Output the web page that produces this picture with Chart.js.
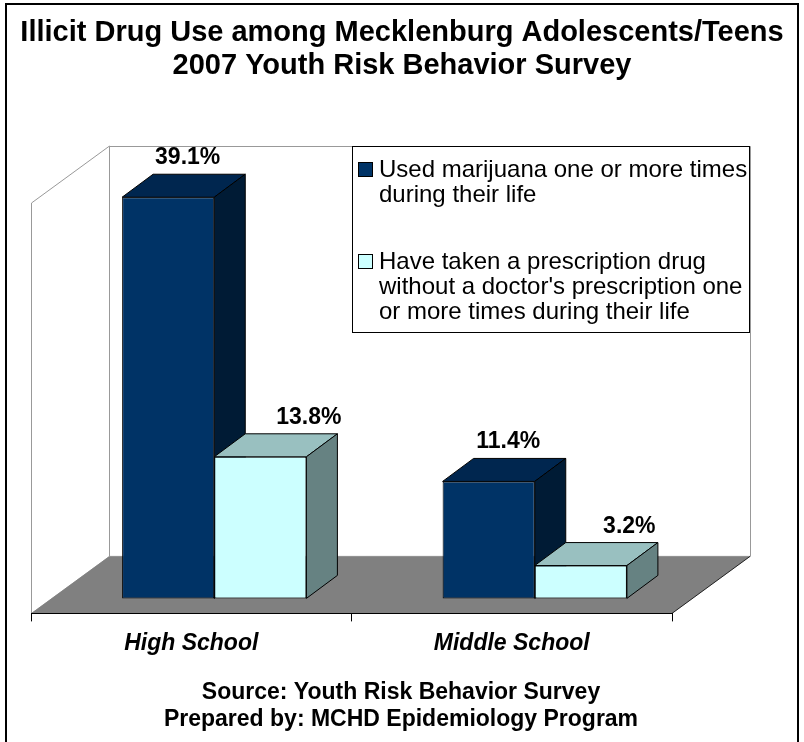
<!DOCTYPE html>
<html lang="en">
<head>
<meta charset="UTF-8">
<title>Illicit Drug Use among Mecklenburg Adolescents/Teens</title>
<script src="https://cdn.jsdelivr.net/npm/chart.js"></script>
<style>
  html, body { margin: 0; padding: 0; background: #fff; }
  #chart { display: block; }
</style>
</head>
<body>
<canvas id="chart" width="804" height="742"></canvas>
<script>
// data
var categories = ['High School', 'Middle School'];
var marijuana = [39.1, 11.4];
var rxDrug = [13.8, 3.2];
var seriesNames = [
    'Used marijuana one or more times during their life',
    "Have taken a prescription drug without a doctor's prescription one or more times during their life"
];
var titleLines = ['Illicit Drug Use among Mecklenburg Adolescents/Teens', '2007 Youth Risk Behavior Survey'];
var footerLines = ['Source: Youth Risk Behavior Survey', 'Prepared by: MCHD Epidemiology Program'];
var yMin = 0;
var yMax = 40;

var FONT = '"Liberation Sans", Arial, sans-serif';
var wallDepth = {x: 78, y: -57};   // floor / walls depth
var barShift = {x: 23, y: -15};    // bars sit a bit back on the floor
var barDepth = {x: 31, y: -23};
var faces = [
    {front: '#003366', top: '#00264F', side: '#001B35'},
    {front: '#CCFFFF', top: '#99C0C0', side: '#668282'}
];
var labelNudge = [4, 33];

function poly(ctx, pts, fill, stroke) {
    ctx.beginPath();
    ctx.moveTo(pts[0][0], pts[0][1]);
    for (var i = 1; i < pts.length; i++) ctx.lineTo(pts[i][0], pts[i][1]);
    ctx.closePath();
    if (fill) { ctx.fillStyle = fill; ctx.fill(); }
    if (stroke) { ctx.strokeStyle = stroke; ctx.lineWidth = 1; ctx.stroke(); }
}

function barBox(el) {
    var p = el.getProps(['x', 'y', 'base', 'width'], true);
    return {
        l: p.x - p.width / 2 + barShift.x,
        r: p.x + p.width / 2 + barShift.x,
        t: p.y + barShift.y,
        b: p.base + barShift.y
    };
}

var box3d = {
    id: 'box3d',
    beforeDraw: function(chart) {
        var ctx = chart.ctx;
        var ca = chart.chartArea;
        var y = chart.scales.y;
        var L = ca.left, R = ca.right;
        var T = y.getPixelForValue(yMax), B = y.getPixelForValue(yMin);
        var dx = wallDepth.x, dy = wallDepth.y;
        ctx.save();
        ctx.fillStyle = '#fff';
        ctx.fillRect(0, 0, chart.width, chart.height);
        // outer frame (bottom edge runs off the picture)
        ctx.strokeStyle = '#000';
        ctx.lineWidth = 2;
        ctx.strokeRect(6, 4, 792, 760);
        // titles
        ctx.fillStyle = '#000';
        ctx.textAlign = 'center';
        ctx.textBaseline = 'alphabetic';
        ctx.font = 'bold 29px ' + FONT;
        ctx.fillText(titleLines[0], 402, 41);
        ctx.fillText(titleLines[1], 402, 74);
        ctx.font = 'bold 23px ' + FONT;
        ctx.fillText(footerLines[0], 401, 699);
        ctx.fillText(footerLines[1], 401, 726);
        // walls and floor
        poly(ctx, [[L + 0.5, T], [L + dx + 0.5, T + dy], [L + dx + 0.5, B + dy], [L + 0.5, B]], '#fff', '#999');
        poly(ctx, [[L + dx + 0.5, T + dy + 0.5], [R + dx + 0.5, T + dy + 0.5], [R + dx + 0.5, B + dy], [L + dx + 0.5, B + dy]], '#fff', '#999');
        poly(ctx, [[L, B], [L + dx, B + dy], [R + dx, B + dy], [R, B]], '#808080', null);
        ctx.beginPath();
        ctx.moveTo(R, B);
        ctx.lineTo(R + dx, B + dy);
        ctx.strokeStyle = '#222';
        ctx.lineWidth = 1;
        ctx.stroke();
        ctx.restore();
    },
    beforeDatasetsDraw: function(chart) {
        var ctx = chart.ctx;
        ctx.save();
        chart.data.datasets.forEach(function(ds, di) {
            var meta = chart.getDatasetMeta(di);
            meta.data.forEach(function(el) {
                var b = barBox(el);
                var ddx = barDepth.x, ddy = barDepth.y;
                poly(ctx, [[b.l, b.t], [b.l + ddx, b.t + ddy], [b.r + ddx, b.t + ddy], [b.r, b.t]], faces[di].top, '#000');
                poly(ctx, [[b.r, b.t], [b.r + ddx, b.t + ddy], [b.r + ddx, b.b + ddy], [b.r, b.b]], faces[di].side, '#000');
            });
        });
        ctx.restore();
        ctx.save();
        ctx.translate(barShift.x, barShift.y);
    },
    afterDatasetsDraw: function(chart) {
        var ctx = chart.ctx;
        ctx.restore();
        ctx.save();
        ctx.fillStyle = '#000';
        ctx.font = 'bold 23px ' + FONT;
        ctx.textAlign = 'center';
        ctx.textBaseline = 'alphabetic';
        chart.data.datasets.forEach(function(ds, di) {
            chart.getDatasetMeta(di).data.forEach(function(el, i) {
                var b = barBox(el);
                var cx = (b.l + b.r) / 2 + barDepth.x / 2 + labelNudge[di];
                ctx.fillText(ds.data[i].toFixed(1) + '%', cx, b.t + barDepth.y - 10);
            });
        });
        ctx.restore();
    },
    afterDraw: function(chart) {
        var ctx = chart.ctx;
        var lx = 352, ly = 146, lw = 397, lh = 186;
        ctx.save();
        ctx.fillStyle = '#fff';
        ctx.fillRect(lx, ly, lw, lh);
        ctx.strokeStyle = '#000';
        ctx.lineWidth = 1;
        ctx.strokeRect(lx + 0.5, ly + 0.5, lw, lh);
        ctx.font = '24px ' + FONT;
        ctx.textAlign = 'left';
        ctx.textBaseline = 'alphabetic';
        var itemTop = [ly + 16, ly + 108];
        chart.data.datasets.forEach(function(ds, di) {
            var sy = itemTop[di];
            ctx.fillStyle = faces[di].front;
            ctx.fillRect(lx + 6.5, sy + 0.5, 14, 14);
            ctx.strokeStyle = '#000';
            ctx.strokeRect(lx + 6.5, sy + 0.5, 14, 14);
            // wrap label into lines
            var words = ds.label.split(' ');
            var lines = [], cur = '';
            words.forEach(function(w) {
                var test = cur ? cur + ' ' + w : w;
                if (ctx.measureText(test).width > 372 && cur) { lines.push(cur); cur = w; }
                else cur = test;
            });
            lines.push(cur);
            ctx.fillStyle = '#000';
            lines.forEach(function(line, k) {
                ctx.fillText(line, lx + 27, sy + 15 + k * 25);
            });
        });
        ctx.restore();
    }
};

var ctx = document.getElementById('chart');
new Chart(ctx, {
    type: 'bar',
    data: {
        labels: categories,
        datasets: [{
            label: seriesNames[0],
            data: marijuana,
            backgroundColor: faces[0].front,
            borderColor: '#000',
            borderWidth: 1,
            borderSkipped: false
        }, {
            label: seriesNames[1],
            data: rxDrug,
            backgroundColor: faces[1].front,
            borderColor: '#000',
            borderWidth: 1,
            borderSkipped: false
        }]
    },
    options: {
        responsive: false,
        animation: false,
        events: [],
        layout: {
            padding: {left: 31, right: 132, top: 203, bottom: 77}
        },
        datasets: {
            bar: {categoryPercentage: 0.575, barPercentage: 1, clip: false}
        },
        plugins: {
            legend: {display: false},
            title: {display: false},
            tooltip: {enabled: false}
        },
        scales: {
            x: {
                grid: {drawOnChartArea: false, drawTicks: true, tickLength: 8, color: '#000'},
                border: {display: true, color: '#000', width: 1},
                ticks: {
                    color: '#000',
                    padding: 8,
                    font: {family: FONT, size: 23, style: 'italic', weight: 'bold'}
                }
            },
            y: {
                display: false,
                min: yMin,
                max: yMax
            }
        }
    },
    plugins: [box3d]
});
</script>
</body>
</html>
